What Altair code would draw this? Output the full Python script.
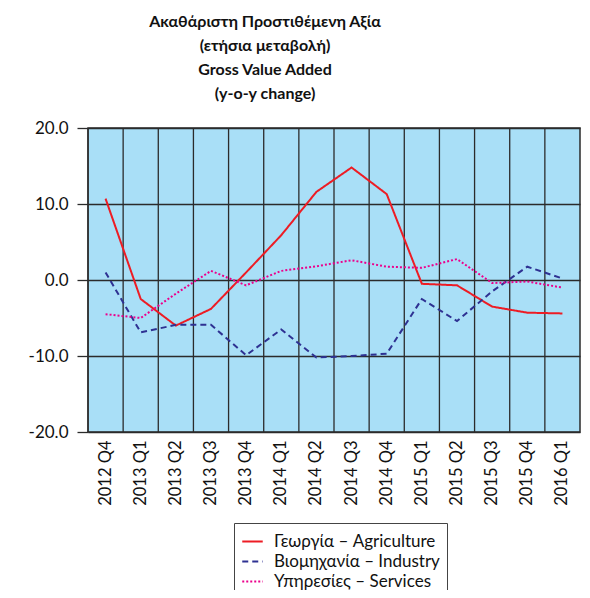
import altair as alt
import pandas as pd

quarters = ["2012 Q4", "2013 Q1", "2013 Q2", "2013 Q3", "2013 Q4", "2014 Q1", "2014 Q2",
            "2014 Q3", "2014 Q4", "2015 Q1", "2015 Q2", "2015 Q3", "2015 Q4", "2016 Q1"]
agriculture = [10.7, -2.5, -6.0, -3.8, 1.0, 5.9, 11.6, 14.8, 11.3, -0.5, -0.7, -3.5, -4.3, -4.4]
industry = [1.0, -6.9, -5.9, -5.9, -9.9, -6.5, -10.2, -10.0, -9.7, -2.5, -5.4, -1.5, 1.75, 0.2]
services = [-4.5, -5.0, -1.8, 1.2, -0.7, 1.2, 1.8, 2.6, 1.75, 1.6, 2.75, -0.4, -0.2, -1.0]
series_names = ["Γεωργία – Agriculture", "Βιομηχανία – Industry", "Υπηρεσίες – Services"]
series_colors = ["#ED1C24", "#2E3192", "#EC008C"]
series_dashes = [[1, 0], [6, 4], [2, 2]]
title_lines = ["Ακαθάριστη Προστιθέμενη Αξία", "(ετήσια μεταβολή)",
               "Gross Value Added", "(y-o-y change)"]

rows = []
for name, vals in zip(series_names, [agriculture, industry, services]):
    for q, v in zip(quarters, vals):
        rows.append({"quarter": q, "value": v, "series": name})
df = pd.DataFrame(rows)
qdf = pd.DataFrame({"quarter": quarters})

FONT = "Lato"
xscale = alt.Scale(type="band", paddingInner=0, paddingOuter=0)
xaxis = alt.Axis(labelAngle=270, labelAlign="right", labelBaseline="middle",
                 labelPadding=8, ticks=False, domain=False, grid=False, bandPosition=0.5,
                 labelFont=FONT, labelFontSize=16.5, labelColor="#111")

grid = alt.Chart(qdf).mark_rule(color="#2b2b2b", strokeWidth=1.3).encode(
    x=alt.X("quarter:N", sort=quarters, scale=xscale, bandPosition=0, title=None, axis=xaxis)
)

leg = alt.Legend(title=None, orient="none", legendX=146, legendY=395,
                 symbolType="stroke", symbolSize=420, symbolStrokeWidth=2,
                 labelFont=FONT, labelFontSize=17, labelColor="#111", labelLimit=400,
                 strokeColor="#444", padding=7, rowPadding=-1, labelOffset=10)

lines = alt.Chart(df).mark_line(strokeWidth=2).encode(
    x=alt.X("quarter:N", sort=quarters, scale=xscale, bandPosition=0.5, title=None, axis=xaxis),
    y=alt.Y("value:Q", title=None,
            scale=alt.Scale(domain=[-20, 20], nice=False, zero=False),
            axis=alt.Axis(values=[-20, -10, 0, 10, 20], grid=True, gridColor="#2b2b2b",
                          gridWidth=1.3, tickSize=11, tickColor="#2b2b2b", tickWidth=1.3,
                          domain=False, labelPadding=9,
                          labelExpr="replace(format(datum.value, '.1f'), '\u2212', '-')",
                          labelFont=FONT, labelFontSize=17, labelColor="#111")),
    color=alt.Color("series:N", sort=series_names,
                    scale=alt.Scale(domain=series_names, range=series_colors), legend=leg),
    strokeDash=alt.StrokeDash("series:N", sort=series_names,
                              scale=alt.Scale(domain=series_names, range=series_dashes),
                              legend=leg),
)

chart = alt.layer(grid, lines).properties(
    width=492, height=304,
    padding={"left": 80, "top": 120, "right": 2, "bottom": 158},
    autosize="none",
    title=alt.Title(text=title_lines, font=FONT, fontSize=16, fontWeight="bold",
                    lineHeight=24, anchor="middle", dx=-69, offset=17, color="#111"),
).configure_view(fill="#A9DFF7", stroke="#2b2b2b", strokeWidth=1.5)

chart.save("out.html", embed_options={"renderer": "svg", "actions": False})
